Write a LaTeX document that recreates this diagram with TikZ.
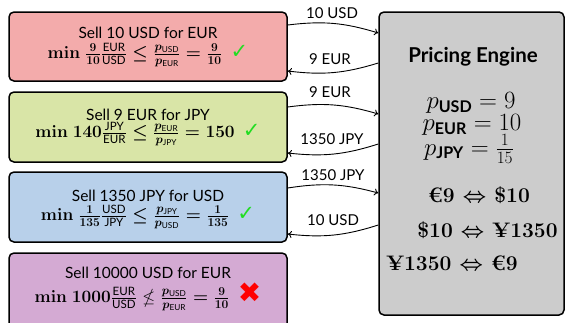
\documentclass[tikz,border=0pt]{standalone}
\usepackage{amsmath,amssymb}
\usepackage{fontspec}
\setsansfont{Lato}
\newfontfamily\symfont{DejaVu Sans}
\usetikzlibrary{arrows.meta}

\definecolor{boxred}{HTML}{F3ABAB}
\definecolor{boxgreen}{HTML}{D9E5A7}
\definecolor{boxblue}{HTML}{B8D0EA}
\definecolor{boxpurple}{HTML}{D4AAD3}
\definecolor{enginegray}{HTML}{CCCCCC}
\definecolor{okgreen}{HTML}{22DD22}

\newcommand{\unitsf}[1]{\textsf{#1}}
\newcommand{\okmark}{{\symfont\color{okgreen}\fontsize{21}{21}\selectfont ✓}}
\newcommand{\badmark}{{\symfont\color{red}\fontsize{28}{28}\selectfont ✖}}

\begin{document}
\begin{tikzpicture}[x=1pt,y=-1pt,
  box/.style={draw=black, line width=1.5pt, rounded corners=5pt,
    minimum width=278pt, inner sep=0pt},
  title/.style={font=\sffamily\fontsize{15.5}{18}\selectfont, inner sep=0pt},
  cond/.style={font=\fontsize{16.5}{19}\selectfont\boldmath, inner sep=0pt},
  flow/.style={font=\sffamily\fontsize{15}{17}\selectfont, inner sep=0pt},
  conn/.style={draw=black, line width=0.9pt, -{To[length=4pt,width=7pt]}},
  price/.style={font=\fontsize{23}{26}\selectfont, inner sep=0pt},
  rate/.style={font=\fontsize{21}{24}\selectfont\bfseries\boldmath, inner sep=0pt}]
\useasboundingbox (0,0) rectangle (565,322);

% offers
\node[box, fill=boxred,    minimum height=69pt] (b1) at (148,46.5) {};
\node[box, fill=boxgreen,  minimum height=70pt] (b2) at (148,127) {};
\node[box, fill=boxblue,   minimum height=70pt] (b3) at (148,207) {};
\node[box, fill=boxpurple, minimum height=77pt] (b4) at (148,291.5) {};

\node[title] (t1) at (148,33) {Sell 10 USD for EUR};
\node[cond]  (c1) at (148,55) {$\mathbf{min}\ \frac{9}{10}\frac{\unitsf{EUR}}{\unitsf{USD}} \leq \frac{p_{\unitsf{USD}}}{p_{\unitsf{EUR}}} = \frac{9}{10}$\enspace\okmark};

\node[title] (t2) at (148,115) {Sell 9 EUR for JPY};
\node[cond]  (c2) at (148,134) {$\mathbf{min}\ 140\frac{\unitsf{JPY}}{\unitsf{EUR}} \leq \frac{p_{\unitsf{EUR}}}{p_{\unitsf{JPY}}} = 150$\enspace\okmark};

\node[title] (t3) at (148,196) {Sell 1350 JPY for USD};
\node[cond]  (c3) at (148,217) {$\mathbf{min}\ \frac{1}{135}\frac{\unitsf{USD}}{\unitsf{JPY}} \leq \frac{p_{\unitsf{JPY}}}{p_{\unitsf{USD}}} = \frac{1}{135}$\enspace\okmark};

\node[title] (t4) at (148,273) {Sell 10000 USD for EUR};
\node[cond]  (c4) at (148,297) {$\mathbf{min}\ 1000\frac{\unitsf{EUR}}{\unitsf{USD}} \nleq \frac{p_{\unitsf{USD}}}{p_{\unitsf{EUR}}} = \frac{9}{10}$\enspace\badmark};

% pricing engine
\node[box, fill=enginegray, minimum width=185pt, minimum height=303pt] (eng) at (471.5,163.5) {};
\node[font=\sffamily\bfseries\fontsize{20.5}{24}\selectfont, inner sep=0pt] (engt) at (473,57) {Pricing Engine};
\node[price] (pusd) at (471,103) {$p_{\textsf{\bfseries USD}} = 9$};
\node[price] (peur) at (472,125) {$p_{\textsf{\bfseries EUR}} = 10$};
\node[price] (pjpy) at (469,149) {$p_{\textsf{\bfseries JPY}} = \frac{1}{15}$};
\node[rate] (r1) at (479,195) {€9 $\Leftrightarrow$ \$10};
\node[rate] (r2) at (487.5,230) {\$10 $\Leftrightarrow$ ¥1350};
\node[rate] (r3) at (452,263) {¥1350 $\Leftrightarrow$ €9};

% transfers
\draw[conn] ([yshift=21.5pt]b1.east) to[bend left=12] ([yshift=130.5pt]eng.west);
\draw[conn] ([yshift=100.5pt]eng.west) to[bend left=12] ([yshift=-24.5pt]b1.east);
\draw[conn] ([yshift=20pt]b2.east) to[bend left=12] ([yshift=49.5pt]eng.west);
\draw[conn] ([yshift=19.5pt]eng.west) to[bend left=12] ([yshift=-26pt]b2.east);
\draw[conn] ([yshift=19pt]b3.east) to[bend left=12] ([yshift=-29.5pt]eng.west);
\draw[conn] ([yshift=-61.5pt]eng.west) to[bend left=12] ([yshift=-27pt]b3.east);

\node[flow] (l1) at (332,13) {10 USD};
\node[flow] (l2) at (330,59) {9 EUR};
\node[flow] (l3) at (330,92) {9 EUR};
\node[flow] (l4) at (332,139) {1350 JPY};
\node[flow] (l5) at (333,175) {1350 JPY};
\node[flow] (l6) at (333,220) {10 USD};
\end{tikzpicture}
\end{document}
